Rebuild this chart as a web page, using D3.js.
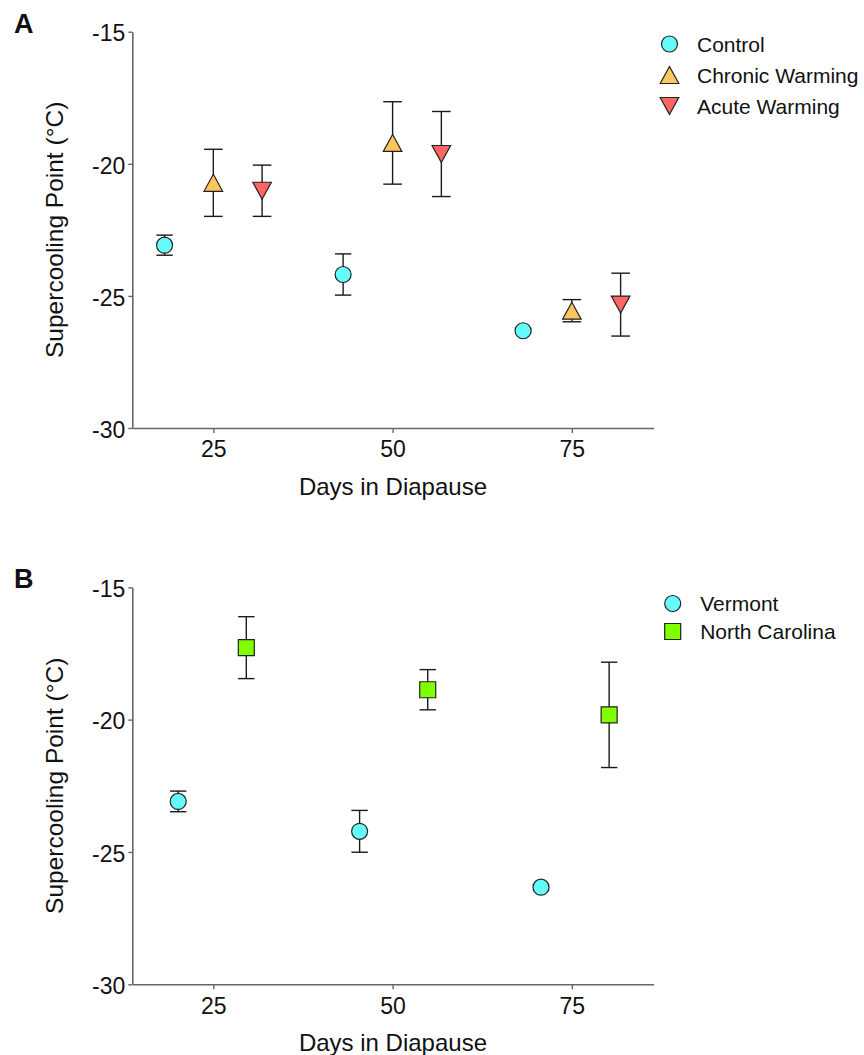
<!DOCTYPE html>
<html>
<head>
<meta charset="utf-8">
<style>
    body { margin: 0; background: #fff; }
    text { font-family: "Liberation Sans", Arial, sans-serif; fill: #111; }
</style>
</head>
<body>
<svg id="workspace" width="864" height="1055"></svg>

<script src="https://d3js.org/d3.v7.min.js"></script>
<script>
    // panel A
    const daysControl = [18.2, 43.1, 68.2];
    const meanControl = [-23.08, -24.19, -26.32];
    const semControl = [0.38, 0.78, 0.1];
    const daysChronic = [25, 50, 75];
    const meanChronic = [-20.72, -19.21, -25.56];
    const semChronic = [1.27, 1.56, 0.42];
    const daysAcute = [31.8, 56.8, 81.8];
    const meanAcute = [-21.02, -19.63, -25.33];
    const semAcute = [0.97, 1.61, 1.19];

    // panel B
    const daysVermont = [20.1, 45.4, 70.7];
    const meanVermont = [-23.09, -24.22, -26.33];
    const semVermont = [0.39, 0.79, 0.1];
    const daysNC = [29.6, 54.9, 80.2];
    const meanNC = [-17.28, -18.87, -19.82];
    const semNC = [1.17, 0.76, 1.99];

    const xTicks = [25, 50, 75];
    const yTicks = [-15, -20, -25, -30];

    const svg = d3.select('#workspace');

    const x = d3.scaleLinear().domain([13.7, 86.4]).range([132.3, 653.6]);

    const shapes = {
        circle: 'M8,0A8,8 0 1,1 -8,0A8,8 0 1,1 8,0Z',
        up: 'M0,-8.5L9.3,8.5L-9.3,8.5Z',
        down: 'M0,8.5L9.3,-8.5L-9.3,-8.5Z',
        square: 'M-8,-8L8,-8L8,8L-8,8Z'
    };

    function zip(days, means, sems) {
        return days.map((d, i) => ({ day: d, mean: means[i], sem: sems[i] }));
    }

    function drawPanel(opts) {
        const y = d3.scaleLinear().domain([-30, -15]).range([opts.bottom, opts.top]);
        const g = svg.append('g');

        // x axis
        const xa = g.append('g')
            .attr('transform', `translate(0,${opts.bottom})`)
            .call(d3.axisBottom(x).tickValues(xTicks).tickFormat(d => String(d))
                .tickSize(5).tickPadding(8).tickSizeOuter(0));
        xa.select('.domain').attr('stroke', '#666').attr('stroke-width', 1.6);
        xa.selectAll('.tick line').attr('stroke', '#666').attr('stroke-width', 1.4);
        xa.selectAll('.tick text').attr('font-size', 23).attr('font-family', 'Liberation Sans, Arial')
            .attr('fill', '#111');

        // y axis, plain hyphen for the minus sign like the original
        const ya = g.append('g')
            .attr('transform', `translate(${x.range()[0]},0)`)
            .call(d3.axisLeft(y).tickValues(yTicks).tickFormat(d => String(d))
                .tickSize(4).tickPadding(3).tickSizeOuter(0));
        ya.select('.domain').attr('stroke', '#666').attr('stroke-width', 1.6);
        ya.selectAll('.tick line').attr('stroke', '#666').attr('stroke-width', 1.4);
        ya.selectAll('.tick text').attr('font-size', 23).attr('font-family', 'Liberation Sans, Arial')
            .attr('fill', '#111').attr('dy', '0.4em');

        g.append('text')
            .attr('x', (x.range()[0] + x.range()[1]) / 2)
            .attr('y', opts.bottom + 67)
            .attr('text-anchor', 'middle')
            .attr('font-size', 24)
            .text('Days in Diapause');

        g.append('text')
            .attr('transform', `translate(63,${(opts.top + opts.bottom) / 2}) rotate(-90)`)
            .attr('text-anchor', 'middle')
            .attr('font-size', 24.5)
            .text('Supercooling Point (°C)');

        g.append('text')
            .attr('x', 14)
            .attr('y', opts.top + 0.8)
            .attr('font-size', 27)
            .attr('font-weight', 'bold')
            .text(opts.letter);

        opts.series.forEach(s => {
            const pts = zip(s.days, s.means, s.sems);
            const eb = g.append('g').attr('stroke', '#1a1a1a').attr('stroke-width', 1.4).attr('fill', 'none');
            pts.forEach(p => {
                const cx = x(p.day);
                const y1 = y(p.mean + p.sem), y2 = y(p.mean - p.sem);
                eb.append('line').attr('x1', cx).attr('x2', cx).attr('y1', y1).attr('y2', y2);
                eb.append('line').attr('x1', cx - s.cap).attr('x2', cx + s.cap).attr('y1', y1).attr('y2', y1);
                eb.append('line').attr('x1', cx - s.cap).attr('x2', cx + s.cap).attr('y1', y2).attr('y2', y2);
            });
            g.selectAll(null).data(pts).join('path')
                .attr('d', shapes[s.shape])
                .attr('transform', d => `translate(${x(d.day)},${y(d.mean)})`)
                .attr('fill', s.color)
                .attr('stroke', '#222')
                .attr('stroke-width', 1.2);
        });

        // legend
        opts.series.forEach((s, i) => {
            const cy = opts.legendY + i * opts.legendStep;
            g.append('path')
                .attr('d', shapes[s.shape])
                .attr('transform', `translate(${opts.legendX},${cy})`)
                .attr('fill', s.color)
                .attr('stroke', '#222')
                .attr('stroke-width', 1.2);
            g.append('text')
                .attr('x', opts.legendX + 27.5)
                .attr('y', cy + 7.5)
                .attr('font-size', 21)
                .text(s.name);
        });
    }

    drawPanel({
        letter: 'A', top: 31.7, bottom: 428,
        legendX: 669.5, legendY: 44, legendStep: 31,
        series: [
            { name: 'Control', days: daysControl, means: meanControl, sems: semControl, shape: 'circle', color: '#66fbfb', cap: 8.2 },
            { name: 'Chronic Warming', days: daysChronic, means: meanChronic, sems: semChronic, shape: 'up', color: '#ffc65e', cap: 9.3 },
            { name: 'Acute Warming', days: daysAcute, means: meanAcute, sems: semAcute, shape: 'down', color: '#fd6464', cap: 9.3 }
        ]
    });

    drawPanel({
        letter: 'B', top: 587.3, bottom: 984.3,
        legendX: 672.7, legendY: 603.5, legendStep: 28,
        series: [
            { name: 'Vermont', days: daysVermont, means: meanVermont, sems: semVermont, shape: 'circle', color: '#66fbfb', cap: 8.2 },
            { name: 'North Carolina', days: daysNC, means: meanNC, sems: semNC, shape: 'square', color: '#80ff00', cap: 8.2 }
        ]
    });
</script>
</body>
</html>
